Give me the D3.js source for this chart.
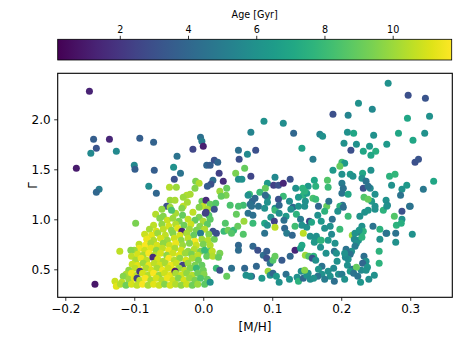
<!DOCTYPE html>
<html>
<head>
<meta charset="utf-8">
<script src="https://cdn.jsdelivr.net/npm/d3@7"></script>
<style>
  body { margin: 0; background: #fff; }
  text { font-family: "DejaVu Sans", sans-serif; }
</style>
</head>
<body>
<svg id="chart" width="463" height="347"></svg>
<script>
// each star: [M/H, Gamma, Age in Gyr]
const sparseMetalPoor = [
  [-0.165,2.28,1.3],[-0.184,1.51,1.0],[-0.159,1.80,3.6],[-0.155,1.71,3.2],[-0.163,1.66,5.6],
  [-0.136,1.80,1.4],[-0.126,1.68,5.6],[-0.092,1.81,3.6],[-0.072,1.77,3.8],[-0.100,1.54,5.6],
  [-0.099,1.50,3.6],[-0.071,1.49,3.6],[-0.079,1.33,5.8],[-0.151,1.30,5.0],[-0.155,1.27,4.0],
  [-0.068,1.26,4.0],[-0.157,0.35,0.9],[-0.004,1.82,4.4],[-0.002,1.78,5.0],[-0.015,1.70,2.6],
  [0.000,1.73,1.2],[-0.038,1.63,4.6],[-0.043,1.52,6.0],[-0.033,1.46,4.6],[-0.042,1.40,3.0],
  [0.016,1.59,3.0],[0.021,1.57,4.0],[0.005,1.54,4.0],[0.010,1.54,3.6],[0.023,1.46,2.4],
  [0.029,1.38,1.6],[0.014,1.39,4.2],[0.011,1.35,3.0],[0.006,1.33,3.6],[-0.011,1.38,9.4],
  [-0.006,1.36,10.4],[-0.012,1.31,9.6],[-0.049,1.32,10.4],[-0.039,1.32,10.0],[-0.024,1.24,10.4],
  [-0.029,1.22,10.0],[-0.048,1.19,10.0],[-0.041,1.19,10.2],[-0.002,1.18,9.2],[0.000,1.13,10.6],
  [0.004,1.19,1.6],[0.024,1.28,10.0],[0.033,1.24,9.4],[0.026,1.23,9.0],[0.012,1.13,9.0],
  [-0.053,1.13,3.0],[-0.048,1.12,10.0],[-0.029,1.13,10.6],[-0.046,1.09,8.4],[-0.031,1.11,9.6],
  [-0.023,1.17,10.2],[-0.019,1.25,10.2],[0.010,1.15,9.0],[0.006,1.10,10.2],[-0.006,1.12,9.6],
  [0.018,1.16,8.6],[-0.060,1.10,9.8]
];

const denseMetalPoor = [
  [-0.069,1.05,10.4],[-0.058,1.03,9.6],[-0.040,1.06,10.2],[-0.030,1.04,9.0],[-0.015,1.07,10.6],
  [-0.006,1.02,9.4],[0.008,1.04,8.6],
  [-0.063,1.01,9.6],[-0.052,0.99,10.8],[-0.044,1.01,10.0],[-0.035,0.98,9.4],[-0.022,1.00,10.6],
  [-0.012,0.99,9.0],[0.000,0.98,10.2],[0.010,1.00,8.8],[-0.098,0.96,9.4],
  [-0.072,0.94,10.6],[-0.060,0.95,9.8],[-0.050,0.93,11.0],[-0.040,0.95,10.4],[-0.028,0.94,9.2],
  [-0.018,0.95,10.8],[-0.005,0.93,9.6],[0.006,0.95,8.8],
  [-0.078,0.90,10.2],[-0.068,0.88,11.0],[-0.058,0.90,10.6],[-0.046,0.89,9.8],[-0.037,0.91,11.2],
  [-0.031,0.88,1.4],[-0.020,0.90,10.0],[-0.010,0.89,9.4],[0.002,0.90,10.4],[0.014,0.88,3.0],
  [-0.085,0.85,10.8],[-0.075,0.84,11.2],[-0.066,0.86,10.0],[-0.055,0.84,10.6],[-0.044,0.86,9.6],
  [-0.034,0.84,11.0],[-0.024,0.86,10.2],[-0.014,0.84,9.0],[-0.004,0.86,5.0],[0.008,0.85,9.6],
  [-0.082,0.80,11.4],[-0.072,0.79,10.4],[-0.062,0.81,11.0],[-0.052,0.79,10.0],[-0.042,0.81,10.8],
  [-0.032,0.79,9.8],[-0.022,0.81,10.6],[-0.012,0.78,11.6],[-0.002,0.80,10.0],[0.007,0.79,10.4],
  [0.016,0.80,9.2],
  [-0.093,0.75,10.6],[-0.084,0.74,11.6],[-0.076,0.76,10.2],[-0.067,0.74,11.0],[-0.058,0.76,9.8],
  [-0.049,0.74,10.8],[-0.040,0.76,11.4],[-0.030,0.74,10.0],[-0.020,0.76,9.6],[-0.010,0.74,10.8],
  [0.000,0.75,9.4],[0.010,0.74,10.4],
  [-0.093,0.71,11.4],[-0.100,0.69,10.0],[-0.085,0.69,10.8],[-0.076,0.71,11.2],[-0.068,0.69,9.8],
  [-0.059,0.71,10.6],[-0.050,0.69,11.4],[-0.041,0.71,10.2],[-0.032,0.69,11.0],[-0.022,0.68,9.8],
  [-0.013,0.70,10.4],[-0.004,0.68,9.4],[0.010,0.68,8.8],[-0.121,0.68,10.6],[-0.105,0.69,9.6],
  [-0.104,0.63,10.6],[-0.095,0.65,11.0],[-0.087,0.64,10.2],[-0.079,0.66,11.6],[-0.071,0.64,10.4],
  [-0.062,0.66,11.0],[-0.053,0.64,9.8],[-0.044,0.66,10.8],[-0.035,0.64,11.2],[-0.026,0.66,10.0],
  [-0.017,0.65,9.4],[-0.008,0.64,10.6],[0.005,0.63,9.0],
  [-0.098,0.59,10.2],[-0.090,0.61,11.4],[-0.082,0.59,10.6],[-0.073,0.62,1.6],[-0.066,0.60,11.0],
  [-0.058,0.58,10.2],[-0.050,0.61,11.6],[-0.042,0.59,10.4],[-0.034,0.61,9.8],[-0.025,0.59,11.0],
  [-0.016,0.61,10.2],[-0.007,0.59,9.2],
  [-0.103,0.55,10.8],[-0.095,0.54,11.2],[-0.087,0.56,10.0],[-0.079,0.54,11.4],[-0.071,0.56,10.6],
  [-0.063,0.54,11.0],[-0.055,0.56,10.2],[-0.047,0.54,11.4],[-0.039,0.56,10.8],[-0.030,0.54,2.4],
  [-0.022,0.56,10.0],[-0.012,0.54,9.4],[-0.002,0.54,9.0],
  [-0.099,0.51,10.6],[-0.108,0.49,9.8],[-0.091,0.49,11.6],[-0.083,0.51,10.4],[-0.075,0.49,11.0],
  [-0.067,0.51,10.2],[-0.059,0.49,11.4],[-0.051,0.51,10.8],[-0.043,0.49,11.2],[-0.035,0.51,10.0],
  [-0.027,0.49,10.6],[-0.019,0.51,9.6],[-0.010,0.51,8.0],[0.000,0.49,9.2],
  [-0.112,0.45,10.2],[-0.104,0.46,11.4],[-0.096,0.44,10.6],[-0.092,0.48,2.0],[-0.088,0.46,11.0],
  [-0.080,0.44,10.4],[-0.072,0.46,11.6],[-0.064,0.44,10.0],[-0.056,0.46,10.8],[-0.048,0.44,11.2],
  [-0.041,0.48,1.0],[-0.040,0.46,10.2],[-0.032,0.44,10.8],[-0.024,0.46,9.8],[-0.016,0.44,10.4],
  [-0.008,0.46,9.2],[0.001,0.45,9.6],
  [-0.116,0.43,9.6],[-0.118,0.37,10.6],[-0.108,0.40,10.0],[-0.100,0.41,11.2],[-0.096,0.41,2.4],
  [-0.092,0.39,10.6],[-0.084,0.41,11.6],[-0.076,0.39,10.2],[-0.068,0.41,11.0],[-0.060,0.39,10.4],
  [-0.052,0.41,11.4],[-0.044,0.39,10.8],[-0.036,0.41,9.6],[-0.028,0.39,11.0],[-0.020,0.41,10.0],
  [-0.012,0.39,9.4],[-0.004,0.41,8.6],[0.006,0.40,9.0],
  [-0.128,0.38,10.8],[-0.126,0.33,11.2],[-0.120,0.35,10.4],[-0.112,0.34,9.2],[-0.104,0.35,11.0],
  [-0.096,0.34,10.6],[-0.088,0.35,11.6],[-0.080,0.34,10.2],[-0.072,0.35,11.2],[-0.064,0.34,10.8],
  [-0.056,0.35,9.6],[-0.048,0.34,11.0],[-0.040,0.35,10.4],[-0.032,0.34,9.8],[-0.024,0.35,10.8],
  [-0.016,0.34,9.2],[-0.008,0.35,10.0],[0.002,0.35,8.8],[0.010,0.37,6.0]
];

const solarUpper = [
  [0.088,1.98,6.0],[0.116,1.96,5.8],[0.069,1.87,5.4],[0.131,1.86,4.0],[0.051,1.69,4.4],
  [0.064,1.65,5.6],[0.076,1.69,3.0],[0.052,1.60,3.0],[0.143,1.71,6.8],[0.047,1.46,9.4],
  [0.060,1.51,9.0],[0.034,1.31,9.0],[0.051,1.40,5.8],[0.056,1.40,6.0],[0.069,1.43,2.6],
  [0.093,1.36,6.4],[0.104,1.42,5.6],[0.090,1.31,9.0],[0.102,1.34,2.4],[0.109,1.34,3.0],
  [0.116,1.36,1.4],[0.126,1.40,3.0],[0.134,1.31,6.0],[0.082,1.27,8.0],[0.067,1.25,8.0],
  [0.093,1.22,6.2],[0.116,1.23,8.0],[0.109,1.20,3.0],[0.071,1.18,4.0],[0.080,1.13,4.6],
  [0.104,1.11,6.0],[0.130,1.12,4.0],[0.138,1.13,6.2],[0.145,1.24,7.6],[0.150,1.26,6.6],
  [0.039,1.14,8.4],[0.058,1.14,8.2],[0.065,1.24,6.0],[0.075,1.21,4.0],[0.090,1.24,4.2],
  [0.104,1.09,8.0],[0.089,1.11,6.0],[0.068,1.15,4.4],[0.065,1.06,4.6],[0.072,1.04,4.4],
  [0.070,1.13,4.4],[0.051,1.13,8.4],[0.048,1.05,9.0],[0.004,1.07,2.2],[0.016,1.10,3.0],
  [0.003,1.06,2.4],[0.110,1.06,6.0],[0.120,1.03,6.4],[0.127,1.10,6.0],[0.135,1.05,7.6],
  [0.141,1.00,5.0],[0.117,0.99,4.4],[0.098,1.02,6.0],[0.093,1.17,6.0],[0.110,1.14,4.0],
  [0.125,1.18,5.8],[0.138,1.22,6.4],[0.148,1.18,6.0]
];

const solarLower = [
  [0.059,0.98,10.0],[0.072,0.96,8.0],[0.058,0.85,8.6],[0.089,0.86,4.6],[0.089,0.96,7.0],
  [0.093,0.94,6.0],[0.103,0.98,2.4],[0.104,0.92,10.6],[0.118,0.91,4.0],[0.121,0.86,5.0],
  [0.129,0.84,4.0],[0.019,0.86,3.0],[0.032,0.96,8.6],[0.030,0.88,8.0],[0.036,0.89,9.2],
  [0.044,0.89,8.0],[0.050,0.93,9.0],[0.041,0.86,8.6],[0.002,0.69,8.0],[0.013,0.68,10.6],
  [0.014,0.63,10.4],[0.024,0.66,9.4],[0.022,0.62,9.0],[0.019,0.51,8.0],[0.024,0.49,3.0],
  [0.034,0.43,9.0],[0.041,0.51,4.4],[0.051,0.74,4.0],[0.051,0.69,4.2],[0.060,0.51,4.0],
  [0.070,0.43,4.0],[0.072,0.73,4.0],[0.079,0.69,3.0],[0.087,0.64,4.4],[0.092,0.68,3.6],
  [0.077,0.53,4.0],[0.092,0.61,3.0],[0.097,0.56,4.6],[0.101,0.59,8.6],[0.104,0.63,9.0],
  [0.094,0.48,10.0],[0.097,0.44,6.0],[0.101,0.46,4.0],[0.106,0.43,6.4],[0.114,0.59,3.4],
  [0.126,0.63,4.0],[0.133,0.69,1.4],[0.141,0.71,6.6],[0.143,0.74,7.0],[0.148,0.64,10.0],
  [0.153,0.63,8.6],[0.062,0.44,6.0],[0.068,0.43,6.0],[0.085,0.41,6.4],[0.110,0.37,6.0],
  [0.136,0.42,6.0],[0.138,0.38,7.6],[0.145,0.41,4.0],[0.150,0.44,6.0],[0.142,0.48,5.8],
  [0.152,0.46,6.0],[0.155,0.40,5.8],[0.120,0.45,4.4],[0.125,0.40,6.0],[0.133,0.93,8.2],
  [0.150,0.92,6.0],[0.143,0.94,6.0]
];

const richUpper = [
  [0.268,2.36,6.0],[0.297,2.24,3.0],[0.322,2.21,3.2],[0.225,2.16,6.0],[0.188,2.05,3.0],
  [0.210,2.04,5.4],[0.245,2.10,5.6],[0.296,2.01,7.0],[0.328,2.03,6.0],[0.169,1.85,5.4],
  [0.173,1.83,6.0],[0.209,1.87,6.0],[0.218,1.86,7.0],[0.247,1.84,6.0],[0.283,1.86,7.0],
  [0.321,1.86,6.0],[0.204,1.76,6.0],[0.222,1.75,6.0],[0.214,1.69,3.0],[0.232,1.68,7.0],
  [0.241,1.73,6.4],[0.250,1.68,7.4],[0.243,1.64,7.0],[0.266,1.75,6.4],[0.304,1.79,7.0],
  [0.159,1.60,5.0],[0.307,1.57,3.0],[0.312,1.60,3.2],[0.201,1.57,8.2],[0.205,1.56,6.4],
  [0.198,1.53,9.0],[0.188,1.49,6.4],[0.201,1.45,6.0],[0.213,1.45,6.4],[0.217,1.43,6.0],
  [0.231,1.46,7.0],[0.230,1.41,6.0],[0.243,1.49,6.0],[0.270,1.43,7.6],[0.278,1.45,7.8],
  [0.334,1.38,7.0],[0.161,1.39,7.0],[0.152,1.33,6.4],[0.163,1.33,7.6],[0.147,1.28,7.6],
  [0.180,1.39,8.6],[0.181,1.32,8.0],[0.201,1.36,5.0],[0.203,1.31,4.6],[0.201,1.26,4.6],
  [0.210,1.25,7.0],[0.232,1.31,3.0],[0.236,1.38,4.6],[0.242,1.31,5.6],[0.249,1.25,6.0],
  [0.233,1.22,8.6],[0.273,1.34,6.0],[0.288,1.30,6.0],[0.286,1.24,4.6],[0.295,1.34,6.4],
  [0.319,1.30,4.8],[0.159,1.21,8.4],[0.163,1.20,8.0],[0.179,1.13,9.0],[0.182,1.18,4.6],
  [0.167,1.13,4.0],[0.202,1.14,4.6],[0.198,1.13,7.6],[0.244,1.18,6.4],[0.249,1.13,6.0],
  [0.265,1.19,6.0],[0.267,1.14,5.6],[0.299,1.13,4.6],[0.144,1.31,7.6],[0.239,1.33,4.6],
  [0.239,1.20,9.0],[0.147,1.13,6.0]
];

const richLower = [
  [0.203,1.12,4.4],[0.195,1.08,6.0],[0.210,1.03,8.0],[0.227,1.03,6.0],[0.234,1.07,6.0],
  [0.239,1.09,6.2],[0.249,1.10,6.0],[0.261,1.09,7.6],[0.277,1.03,8.6],[0.288,1.08,3.0],
  [0.288,1.00,6.0],[0.280,0.94,7.6],[0.287,0.96,7.4],[0.300,1.13,4.6],[0.303,0.85,6.0],
  [0.279,0.86,4.6],[0.279,0.77,6.0],[0.266,0.86,6.0],[0.256,0.90,7.6],[0.246,0.93,4.6],
  [0.230,0.93,6.0],[0.229,0.86,4.6],[0.225,0.79,6.0],[0.216,0.84,10.0],[0.219,0.80,5.6],
  [0.222,0.76,6.0],[0.220,0.73,5.0],[0.215,0.68,6.0],[0.213,0.65,4.6],[0.210,0.60,6.0],
  [0.206,0.62,5.6],[0.209,0.54,6.0],[0.216,0.50,4.6],[0.232,0.88,7.6],[0.230,0.82,7.6],
  [0.198,0.90,8.0],[0.186,0.85,5.6],[0.191,0.76,6.0],[0.190,0.68,4.6],[0.194,0.58,6.0],
  [0.189,0.51,5.6],[0.181,0.79,6.4],[0.178,0.66,6.0],[0.233,0.63,4.4],[0.236,0.58,6.0],
  [0.231,0.56,4.0],[0.238,0.52,6.2],[0.229,0.49,5.6],[0.224,0.43,4.6],[0.236,0.49,6.0],
  [0.255,0.56,7.6],[0.255,0.68,7.6],[0.222,0.52,9.0],[0.181,0.48,6.0],[0.184,0.43,6.0],
  [0.196,0.45,6.0],[0.201,0.45,5.0],[0.213,0.48,6.4],[0.218,0.46,4.6],[0.172,0.45,6.0],
  [0.176,0.40,5.0],[0.166,0.43,4.6],[0.160,0.41,6.0],[0.205,0.40,6.0],[0.190,0.38,4.4],
  [0.240,0.40,5.8],[0.248,0.44,6.0],[0.228,0.37,6.2],[0.160,0.63,7.6],[0.170,0.72,6.0],
  [0.154,0.98,2.6],[0.145,0.86,10.6],[0.155,0.83,6.0],[0.162,0.79,6.2],[0.164,0.83,6.0],
  [0.171,0.79,8.0],[0.158,0.61,3.0],[0.147,0.49,9.6],[0.163,0.59,6.0],[0.172,0.53,4.6],
  [0.167,0.50,6.2],[0.193,0.66,6.0],[0.207,0.70,4.6],[0.205,0.66,6.0],[0.220,0.86,6.0],
  [0.226,0.89,6.2],[0.256,0.80,6.0],[0.265,0.86,4.6],[0.266,1.13,6.0],[0.157,0.97,7.0],
  [0.166,1.04,6.0],[0.176,1.08,7.6],[0.171,0.98,6.4],[0.176,0.91,6.0],[0.187,1.00,4.6],
  [0.184,0.93,6.0],[0.161,0.77,6.4],[0.170,0.79,7.6]
];

const xTicks = [-0.2, -0.1, 0.0, 0.1, 0.2, 0.3];
const yTicks = [0.5, 1.0, 1.5, 2.0];
const ageTicks = [2, 4, 6, 8, 10];
const ageRange = [0.18, 11.73];

const stars = [].concat(denseMetalPoor, sparseMetalPoor, solarUpper, solarLower, richUpper, richLower);

const svg = d3.select("#chart");
const margin = { top: 73.3, right: 10.7, bottom: 49.7, left: 57.7 };
const width = +svg.attr("width") - margin.left - margin.right;
const height = +svg.attr("height") - margin.top - margin.bottom;

const x = d3.scaleLinear().domain([-0.211, 0.361]).range([0, width]);
const y = d3.scaleLinear().domain([0.22, 2.46]).range([height, 0]);
const color = d3.scaleSequential(d3.interpolateViridis).domain(ageRange);

const g = svg.append("g").attr("transform", `translate(${margin.left},${margin.top})`);

// points
g.append("g")
  .selectAll("circle")
  .data(stars)
  .join("circle")
  .attr("cx", d => x(d[0]))
  .attr("cy", d => y(d[1]))
  .attr("r", 3.5)
  .attr("fill", d => color(d[2]));

// axes
const xAxis = g.append("g")
  .attr("transform", `translate(0,${height})`)
  .call(d3.axisBottom(x).tickValues(xTicks).tickFormat(d3.format(".1f")).tickSize(3.5).tickPadding(3.5));
const yAxis = g.append("g")
  .call(d3.axisLeft(y).tickValues(yTicks).tickFormat(d3.format(".1f")).tickSize(3.5).tickPadding(3.5));
[xAxis, yAxis].forEach(a => {
  a.select(".domain").remove();
  a.selectAll("text").style("font-size", "12px").attr("fill", "#000");
  a.selectAll("line").attr("stroke", "#000").attr("stroke-width", 0.8);
});

g.append("rect")
  .attr("width", width)
  .attr("height", height)
  .attr("fill", "none")
  .attr("stroke", "#000")
  .attr("stroke-width", 1.1);

g.append("text")
  .attr("x", width / 2)
  .attr("y", height + 33.5)
  .attr("text-anchor", "middle")
  .style("font-size", "12px")
  .text("[M/H]");

g.append("text")
  .attr("transform", `translate(-21,${height / 2}) rotate(-90)`)
  .attr("text-anchor", "middle")
  .style("font-size", "12px")
  .text("Γ");

// colorbar
const cb = { x: 57.7, y: 39.3, w: 394, h: 20.7 };
const cx = d3.scaleLinear().domain(ageRange).range([0, cb.w]);
const grad = svg.append("defs").append("linearGradient").attr("id", "viridis");
d3.range(0, 1.0001, 0.05).forEach(t => {
  grad.append("stop").attr("offset", t).attr("stop-color", d3.interpolateViridis(t));
});
const cbg = svg.append("g").attr("transform", `translate(${cb.x},${cb.y})`);
cbg.append("rect")
  .attr("width", cb.w)
  .attr("height", cb.h)
  .attr("fill", "url(#viridis)")
  .attr("stroke", "#000")
  .attr("stroke-width", 0.8);
const cAxis = cbg.append("g")
  .call(d3.axisTop(cx).tickValues(ageTicks).tickFormat(d3.format("d")).tickSize(3.5).tickPadding(2.5));
cAxis.select(".domain").remove();
cAxis.selectAll("text").style("font-size", "9.6px").attr("fill", "#000");
cAxis.selectAll("line").attr("stroke", "#000").attr("stroke-width", 0.8);
cbg.append("text")
  .attr("x", cb.w / 2)
  .attr("y", -21)
  .attr("text-anchor", "middle")
  .style("font-size", "9.6px")
  .text("Age [Gyr]");
</script>
</body>
</html>
